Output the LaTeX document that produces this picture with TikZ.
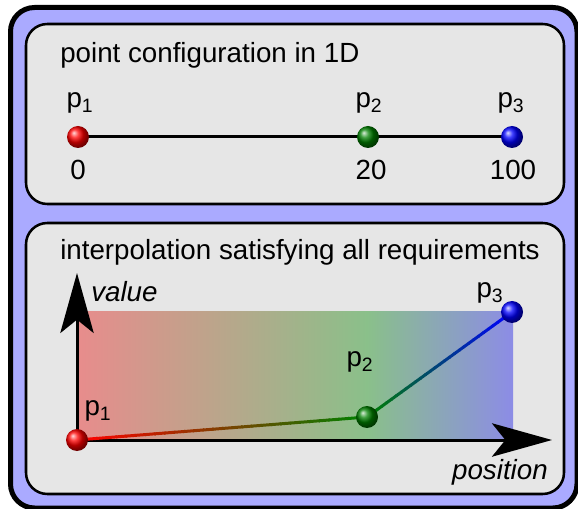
\documentclass[tikz,border=0pt]{standalone}
\usepackage{fontspec}
\setmainfont{Liberation Sans}
\usetikzlibrary{arrows.meta,calc}
\definecolor{lav}{RGB}{170,170,255}
\definecolor{boxgray}{RGB}{230,230,230}
\definecolor{cred}{RGB}{255,0,0}
\definecolor{cgreen}{RGB}{0,128,0}
\definecolor{cblue}{RGB}{0,0,255}
\definecolor{sred}{RGB}{232,140,140}
\definecolor{sgreen}{RGB}{138,192,138}
\definecolor{sblue}{RGB}{140,140,230}
\tikzset{
  panel/.style={draw=black, line width=1.9pt, fill=boxgray, rounded corners=16pt},
  txt/.style={inner sep=0pt, font=\fontsize{20.8}{25}\selectfont},
  ballnode/.style={circle, inner sep=0pt, minimum size=16.5pt, ball color=#1},
  axis/.style={line width=2.25pt, -{Stealth[length=45pt,width=25pt,inset=10pt]}},
  seg/.style={line width=2.25pt},
}
\begin{document}
\begin{tikzpicture}[x=0.75pt,y=-0.75pt]
\useasboundingbox (0,0) rectangle (578,509);
% outer frame
\draw[line width=3.75pt, fill=lav, rounded corners=18pt] (10.5,7.5) rectangle (577,508);
% panels
\draw[panel] (26,24) rectangle (564,204);
\draw[panel] (26,223) rectangle (564,494);

% ---------- top panel ----------
\node[txt, anchor=base west] (title1) at (60,63) {point configuration in 1D};
\coordinate (a1) at (78,137);
\coordinate (a2) at (368,137);
\coordinate (a3) at (512,137);
\draw[line width=2.25pt] (a1) -- (a3);
\node[ballnode=cred] (ta1) at (a1) {};
\node[ballnode=cgreen] (ta2) at (a2) {};
\node[ballnode=cblue] (ta3) at (a3) {};
\node[txt, anchor=base] (tl1) at (80,108) {p\textsubscript{1}};
\node[txt, anchor=base] (tl2) at (369,108) {p\textsubscript{2}};
\node[txt, anchor=base] (tl3) at (511,108) {p\textsubscript{3}};
\node[txt, anchor=base] (n1) at (78,180) {0};
\node[txt, anchor=base] (n2) at (371,180) {20};
\node[txt, anchor=base] (n3) at (513,180) {100};

% ---------- bottom panel ----------
\node[txt, anchor=base west] (title2) at (60,260) {interpolation satisfying all requirements};
\shade[left color=sred, right color=sgreen] (77,312) rectangle (367.5,440);
\shade[left color=sgreen, right color=sblue] (367,312) rectangle (513,440);
\coordinate (o) at (77,440);
\coordinate (ytip) at (77,273);
\coordinate (xtip) at (552,440);
\draw[axis] (o) -- (ytip);
\draw[axis] (o) -- (xtip);
\node[txt, anchor=base west, font=\fontsize{20.8}{25}\selectfont\itshape] (vlab) at (91,302) {value};
\node[txt, anchor=base east, font=\fontsize{20.8}{25}\selectfont\itshape] (plab) at (548,479) {position};

\coordinate (b1) at (77,440);
\coordinate (b2) at (367,417);
\coordinate (b3) at (512,312);
\foreach \i in {0,...,29}{
  \pgfmathsetmacro{\pc}{100-\i*100/29}
  \pgfmathsetmacro{\ta}{\i/30}
  \pgfmathsetmacro{\tb}{(\i+1)/30+0.005}
  \draw[seg, color=cred!\pc!cgreen] ($(b1)!\ta!(b2)$) -- ($(b1)!\tb!(b2)$);
  \draw[seg, color=cgreen!\pc!cblue] ($(b2)!\ta!(b3)$) -- ($(b2)!\tb!(b3)$);
}
\node[ballnode=cred] (q1) at (b1) {};
\node[ballnode=cgreen] (q2) at (b2) {};
\node[ballnode=cblue] (q3) at (b3) {};
\node[txt, anchor=base] (bl1) at (98,416) {p\textsubscript{1}};
\node[txt, anchor=base] (bl2) at (360,367) {p\textsubscript{2}};
\node[txt, anchor=base] (bl3) at (490,298) {p\textsubscript{3}};
\end{tikzpicture}
\end{document}
